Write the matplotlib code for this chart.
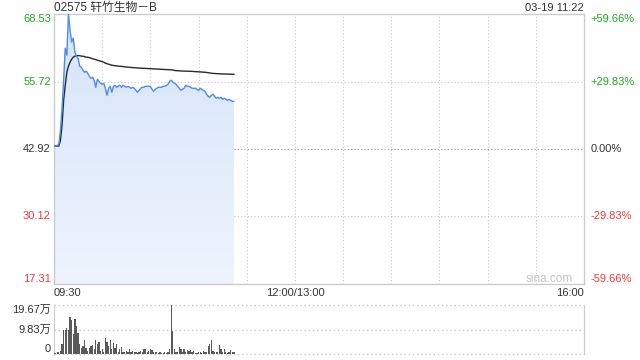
import numpy as np
import matplotlib
matplotlib.use("Agg")
import matplotlib.pyplot as plt
from matplotlib.colors import LinearSegmentedColormap

# ---------------- data ----------------
title = "02575 轩竹生物－B"
stamp = "03-19 11:22"
prev_close = 42.92
price_ticks = [17.31, 30.12, 42.92, 55.72, 68.53]
price_tick_labels = ["17.31", "30.12", "42.92", "55.72", "68.53"]
pct_tick_labels = ["-59.66%", "-29.83%", "0.00%", "+29.83%", "+59.66%"]
time_labels = ["09:30", "12:00/13:00", "16:00"]
session_minutes = 330          # 09:30-12:00 + 13:00-16:00
lunch_minute = 150
vol_ticks = [0, 9.83, 19.67]
vol_tick_labels = ["0", "9.83万", "19.67万"]

price = [43.49, 43.49, 43.59, 43.78, 46.44, 50.63, 55.96, 62.06, 60.72, 68.53,
         65.48, 63.20, 63.96, 61.29, 60.53, 60.15, 58.63, 58.44, 57.87, 57.49,
         57.68, 57.30, 56.72, 56.34, 56.53, 55.96, 54.63, 56.15, 55.77, 55.39,
         55.20, 55.39, 54.44, 53.11, 54.44, 54.82, 53.68, 54.82, 55.01, 54.63,
         54.82, 55.01, 54.63, 55.01, 54.82, 54.63, 54.82, 54.63, 54.44, 54.63,
         54.44, 54.06, 53.68, 54.06, 54.44, 54.63, 54.63, 54.82, 54.82, 54.82,
         54.82, 54.25, 53.87, 54.25, 54.44, 54.63, 54.63, 54.63, 54.82, 54.82,
         55.01, 55.20, 55.77, 55.96, 55.58, 55.39, 55.20, 54.82, 54.44, 54.06,
         54.25, 54.44, 55.01, 54.82, 54.82, 54.63, 54.44, 54.44, 54.44, 54.25,
         54.06, 54.44, 54.25, 54.06, 53.87, 53.30, 52.92, 52.73, 53.11, 53.30,
         52.92, 52.54, 52.73, 52.54, 52.73, 52.35, 52.54, 52.35, 52.15, 52.35,
         52.15, 51.96, 51.96]

avg_price = [43.49, 43.49, 43.49, 43.49, 44.54, 47.39, 52.15, 55.01, 57.49, 58.63,
             59.39, 59.96, 60.33, 60.53, 60.63, 60.63, 60.63, 60.53, 60.53, 60.44,
             60.33, 60.33, 60.25, 60.15, 60.06, 59.96, 59.87, 59.77, 59.68, 59.58,
             59.49, 59.39, 59.20, 59.10, 59.01, 58.91, 58.82, 58.76, 58.72, 58.68,
             58.63, 58.62, 58.59, 58.55, 58.51, 58.48, 58.44, 58.43, 58.40, 58.36,
             58.34, 58.32, 58.29, 58.27, 58.25, 58.24, 58.22, 58.21, 58.19, 58.17,
             58.16, 58.14, 58.12, 58.10, 58.09, 58.07, 58.05, 58.04, 58.02, 58.00,
             57.99, 57.97, 57.96, 57.95, 57.90, 57.82, 57.79, 57.77, 57.75, 57.73,
             57.71, 57.70, 57.69, 57.68, 57.67, 57.66, 57.64, 57.62, 57.60, 57.58,
             57.56, 57.54, 57.52, 57.50, 57.48, 57.44, 57.40, 57.34, 57.30, 57.26,
             57.24, 57.22, 57.20, 57.19, 57.17, 57.16, 57.15, 57.14, 57.13, 57.12,
             57.11, 57.10, 57.10]

volume = [0.3, 0.5, 0.7, 1.0, 1.3, 3.9, 9.6, 9.6, 10.5, 9.6,
          14.8, 13.8, 7.9, 14.2, 11.4, 8.5, 3.9, 2.6, 3.3, 5.5,
          2.6, 1.3, 2.6, 3.3, 3.5, 2.0, 5.5, 3.9, 4.8, 1.3,
          2.2, 0.9, 6.3, 5.0, 3.3, 5.5, 2.0, 4.3, 2.6, 3.9,
          0.9, 2.0, 2.9, 0.9, 1.0, 1.3, 0.7, 2.0, 0.7, 1.3,
          0.9, 1.0, 0.4, 0.7, 1.3, 1.0, 2.0, 2.2, 0.7, 1.3,
          2.0, 1.6, 0.7, 1.0, 1.0, 0.4, 0.7, 0.4, 0.4, 0.7,
          0.4, 0.7, 2.2, 19.67, 9.2, 2.2, 0.7, 0.7, 3.0, 2.0,
          0.7, 2.2, 1.0, 1.7, 1.3, 1.7, 0.7, 1.3, 0.4, 0.4,
          0.7, 0.7, 0.4, 1.3, 0.9, 0.7, 3.3, 3.9, 5.6, 1.3,
          1.0, 0.7, 0.9, 3.5, 2.0, 1.0, 2.0, 0.7, 0.4, 0.7,
          1.7, 0.9, 0.7]

minutes = np.arange(len(price))

# ---------------- style ----------------
plt.rcParams["font.family"] = ["Liberation Sans", "Noto Sans CJK SC", "DejaVu Sans"]
plt.rcParams["font.size"] = 8

GREEN = "#1ea81e"
RED = "#f03a3a"
DARK = "#333333"
GRID = "#c8c8c8"
BORDER = "#cccccc"
LINE = "#4a8cf0"

W, H = 640, 360
fig = plt.figure(figsize=(W / 100, H / 100), dpi=100)
fig.patch.set_facecolor("white")

ax = fig.add_axes([54 / W, 1 - 284 / H, 530 / W, 270 / H])
axv = fig.add_axes([54 / W, 1 - 354 / H, 530 / W, 49 / H])

# ---------------- price panel ----------------
ymin, ymax = price_ticks[0], price_ticks[-1]
ax.set_xlim(0, session_minutes)
ax.set_ylim(ymin, ymax)
ax.set_xticks([])
ax.set_yticks([])
for s in ax.spines.values():
    s.set_color(BORDER)
    s.set_linewidth(1)

dot = (0, (1, 2))
for m in range(30, session_minutes, 30):
    ax.axvline(m, color=GRID, lw=0.8, ls=dot, zorder=1)
for v in price_ticks[1:-1]:
    c = "#a0a0a0" if v == prev_close else GRID
    ax.axhline(v, color=c, lw=0.8, ls=dot, zorder=1)

# gradient fill under the price line
poly = ax.fill_between(minutes, price, ymin, facecolor="none", edgecolor="none")
cmap = LinearSegmentedColormap.from_list("g", ["#eef4fd", "#d6e4fa"])
grad = np.linspace(0, 1, 256).reshape(-1, 1)
img = ax.imshow(grad, cmap=cmap, origin="lower", aspect="auto",
                extent=[minutes[0], minutes[-1], ymin, ymax], zorder=2)
img.set_clip_path(poly.get_paths()[0], transform=ax.transData)
ax.set_xlim(0, session_minutes)
ax.set_ylim(ymin, ymax)

ax.plot(minutes, avg_price, color="#2a2a2a", lw=1.0, zorder=4)
ax.plot(minutes, price, color=LINE, lw=1.0, zorder=5)

# axis labels
ytr = ax.get_yaxis_transform()
for v, lab, pl in zip(price_ticks, price_tick_labels, pct_tick_labels):
    if v > prev_close:
        col = GREEN
    elif v < prev_close:
        col = RED
    else:
        col = DARK
    va = "center"
    if v == ymax:
        va = "top"
    elif v == ymin:
        va = "bottom"
    ax.text(-0.006, v, lab, transform=ytr, ha="right", va=va, color=col, fontsize=8)
    ax.text(1.013, v, pl, transform=ytr, ha="left", va=va, color=col, fontsize=8)

ax.text(0, 1.022, title, transform=ax.transAxes, ha="left", va="center",
        color=DARK, fontsize=8.5)
ax.text(1, 1.022, stamp, transform=ax.transAxes, ha="right", va="center",
        color=DARK, fontsize=8)

xtr = ax.get_xaxis_transform()
ax.text(0, -0.033, time_labels[0], transform=xtr, ha="left", va="center", color=DARK)
ax.text(lunch_minute, -0.033, time_labels[1], transform=xtr, ha="center", va="center", color=DARK)
ax.text(session_minutes, -0.033, time_labels[2], transform=xtr, ha="right", va="center", color=DARK)

ax.text(0.979, 0.019, "sina.com", transform=ax.transAxes, ha="right", va="center",
        color="#c4c4c4", fontsize=8.5)

# ---------------- volume panel ----------------
axv.set_xlim(0, session_minutes)
axv.set_ylim(vol_ticks[0], vol_ticks[-1])
axv.set_xticks([])
axv.set_yticks([])
for side in ["top", "bottom"]:
    axv.spines[side].set_visible(False)
for side in ["left", "right"]:
    axv.spines[side].set_color(BORDER)
for v in vol_ticks:
    axv.axhline(v, color=GRID, lw=1.0, ls=dot, clip_on=False, zorder=1)
axv.bar(minutes, volume, width=0.8, color="#5a5a5a", linewidth=0, zorder=3)

vtr = axv.get_yaxis_transform()
for v, lab in zip(vol_ticks, vol_tick_labels):
    va = "center"
    if v == vol_ticks[-1]:
        va = "top"
    elif v == vol_ticks[0]:
        va = "bottom"
    axv.text(-0.006, v, lab, transform=vtr, ha="right", va=va, color=DARK, fontsize=8)

fig.savefig("out.png", dpi=100)
